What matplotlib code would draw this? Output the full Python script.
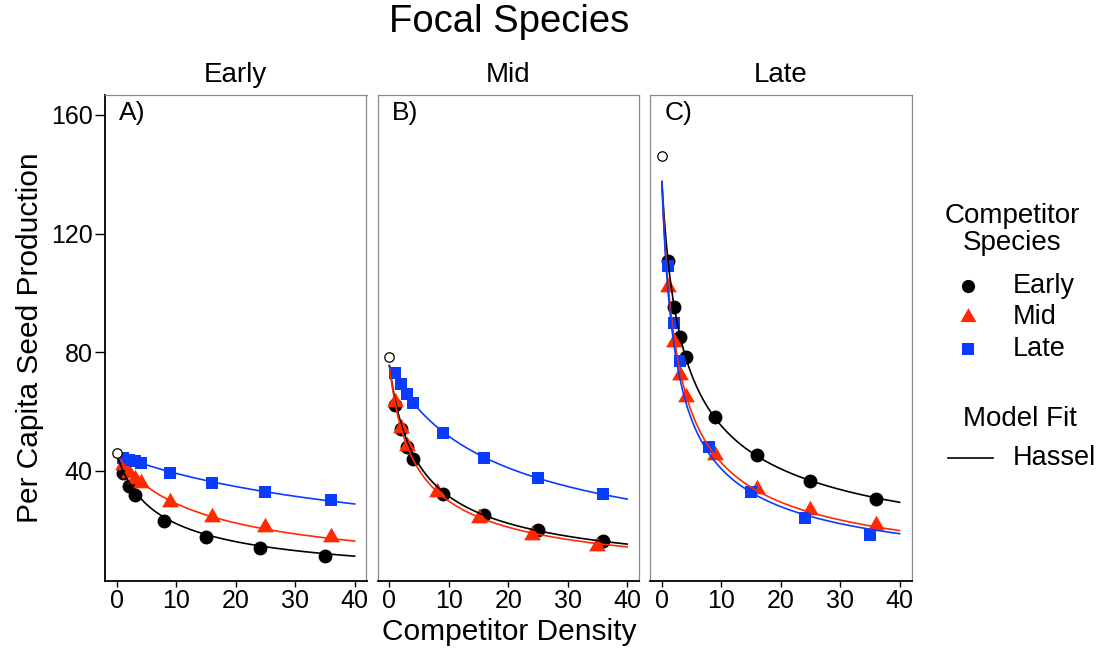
import numpy as np
import matplotlib
matplotlib.use('Agg')
import matplotlib.pyplot as plt
from matplotlib.path import Path

plt.rcParams['font.family'] = ['Liberation Sans', 'DejaVu Sans']

# ---------------- data ----------------
focal_species = ['Early', 'Mid', 'Late']
panel_tags = ['A)', 'B)', 'C)']
competitor_species = ['Early', 'Mid', 'Late']
x_ticks = [0, 10, 20, 30, 40]
y_ticks = [40, 80, 120, 160]

# seed production with no competitors (open circles, x = 0)
control_y = [45.9, 78.3, 146.2]

# Panel A: focal Early
a_early_x = [1, 2, 3, 8, 15, 24, 35]
a_early_y = [39.2, 35.0, 31.9, 23.2, 17.7, 14.2, 11.4]
a_mid_x = [1, 2, 3, 4, 9, 16, 25, 36]
a_mid_y = [42.0, 39.2, 37.2, 35.8, 29.7, 24.4, 21.0, 17.9]
a_late_x = [1, 2, 3, 4, 9, 16, 25, 36]
a_late_y = [44.5, 43.8, 43.2, 42.6, 39.4, 36.0, 33.0, 30.1]

# Panel B: focal Mid
b_early_x = [1, 2, 3, 4, 9, 16, 25, 36]
b_early_y = [62.3, 54.1, 48.2, 43.9, 32.3, 25.2, 20.1, 16.4]
b_mid_x = [1, 2, 3, 8, 15, 24, 35]
b_mid_y = [63.4, 54.4, 48.4, 33.0, 24.1, 18.4, 14.8]
b_late_x = [1, 2, 3, 4, 9, 16, 25, 36]
b_late_y = [73.1, 69.2, 66.0, 62.8, 52.9, 44.5, 37.7, 32.3]

# Panel C: focal Late
c_early_x = [1, 2, 3, 4, 9, 16, 25, 36]
c_early_y = [110.9, 95.4, 85.3, 78.3, 58.3, 45.4, 36.7, 30.5]
c_mid_x = [1, 2, 3, 4, 9, 16, 25, 36]
c_mid_y = [102.1, 83.6, 72.4, 65.0, 45.4, 33.8, 26.9, 21.8]
c_late_x = [1, 2, 3, 8, 15, 24, 35]
c_late_y = [109.1, 89.8, 77.2, 48.0, 33.0, 24.1, 18.4]

# Hassell model fits: y = lambda / (1 + alpha * x) ** beta
# rows = focal species, columns = competitor (Early, Mid, Late)
hassell_lambda = [[45.5, 45.5, 45.5], [75.5, 75.5, 75.5], [137.5, 137.5, 137.5]]
hassell_alpha = [[0.23, 0.112, 0.0283], [0.33, 0.37, 0.088], [0.52, 0.60, 0.66]]
hassell_beta = [[0.6, 0.6, 0.6], [0.6, 0.6, 0.6], [0.5, 0.6, 0.6]]

points = [
    [(a_early_x, a_early_y), (a_mid_x, a_mid_y), (a_late_x, a_late_y)],
    [(b_early_x, b_early_y), (b_mid_x, b_mid_y), (b_late_x, b_late_y)],
    [(c_early_x, c_early_y), (c_mid_x, c_mid_y), (c_late_x, c_late_y)],
]

# ---------------- style ----------------
colors = ['#000000', '#FF2A00', '#0A3CFF']
tri = Path([(-1.0, -0.577), (1.0, -0.577), (0.0, 1.155), (-1.0, -0.577)],
           [Path.MOVETO, Path.LINETO, Path.LINETO, Path.CLOSEPOLY])
markers = ['o', tri, 's']
msizes = [10.0, 14.0, 9.3]
gray = '#8a8a8a'

W, H = 1099, 648
fig = plt.figure(figsize=(W / 100, H / 100), dpi=100)

panel_left = [105, 377.5, 650]
panel_w = 261.5
panel_top, panel_bottom = 94.7, 581

xgrid = np.linspace(0, 40, 400)

for i in range(3):
    ax = fig.add_axes([panel_left[i] / W, (H - panel_bottom) / H,
                       panel_w / W, (panel_bottom - panel_top) / H])
    ax.set_xlim(-2, 42)
    ax.set_ylim(2.93, 166.8)
    for j in range(3):
        xs, ys = points[i][j]
        ax.plot(xs, ys, linestyle='none', marker=markers[j], ms=msizes[j],
                color=colors[j], mec=colors[j], mew=0, zorder=2)
    for j in range(3):
        yfit = hassell_lambda[i][j] / (1 + hassell_alpha[i][j] * xgrid) ** hassell_beta[i][j]
        ax.plot(xgrid, yfit, color=colors[j], lw=1.2, zorder=3)
    ax.plot([0], [control_y[i]], linestyle='none', marker='o', ms=6.8,
            mfc='white', mec='black', mew=0.9, zorder=4)

    ax.set_xticks(x_ticks)
    ax.set_xticklabels([str(t) for t in x_ticks])
    ax.tick_params(axis='x', length=4, width=1.0, color='black', labelsize=18,
                   pad=2, labelcolor='black')
    if i == 0:
        ax.set_yticks(y_ticks)
        ax.set_yticklabels([str(t) for t in y_ticks])
        ax.tick_params(axis='y', length=7, width=1.0, color='black', labelsize=18,
                       pad=2, labelcolor='black')
        ax.spines['left'].set_color('black')
        ax.spines['left'].set_linewidth(1.3)
    else:
        ax.set_yticks([])
        ax.spines['left'].set_color(gray)
        ax.spines['left'].set_linewidth(0.9)
    ax.spines['bottom'].set_color('black')
    ax.spines['bottom'].set_linewidth(1.3)
    for s in ['top', 'right']:
        ax.spines[s].set_color(gray)
        ax.spines[s].set_linewidth(0.9)

    ax.text(0.055, 0.963, panel_tags[i], transform=ax.transAxes, ha='left',
            va='center', fontsize=19)
    fig.text((panel_left[i] + panel_w / 2) / W, 1 - 75 / H, focal_species[i],
             ha='center', va='center', fontsize=20)

# titles
fig.text(509 / W, 1 - 22 / H, 'Focal Species', ha='center', va='center', fontsize=27.5)
fig.text(509 / W, 1 - 632 / H, 'Competitor Density', ha='center', va='center', fontsize=21.5)
fig.text(30 / W, 1 - 338 / H, 'Per Capita Seed Production', ha='center', va='center',
         rotation=90, fontsize=21.5)

# legend (drawn in pixel coordinates on an overlay axes)
lax = fig.add_axes([0, 0, 1, 1])
lax.set_xlim(0, W)
lax.set_ylim(H, 0)
lax.axis('off')
lax.text(1012, 216, 'Competitor', ha='center', va='center', fontsize=20)
lax.text(1012, 243, 'Species', ha='center', va='center', fontsize=20)
leg_y = [286, 317, 349]
for j in range(3):
    lax.plot([968], [leg_y[j]], linestyle='none', marker=markers[j], ms=msizes[j] * 0.95,
             color=colors[j], mew=0)
    lax.text(1013, leg_y[j], competitor_species[j], ha='left', va='center', fontsize=19.5)
lax.text(1020, 419, 'Model Fit', ha='center', va='center', fontsize=20)
lax.plot([948, 993], [458, 458], color='black', lw=1.2)
lax.text(1013, 458, 'Hassel', ha='left', va='center', fontsize=19.5)

fig.savefig('out.png', dpi=100)
